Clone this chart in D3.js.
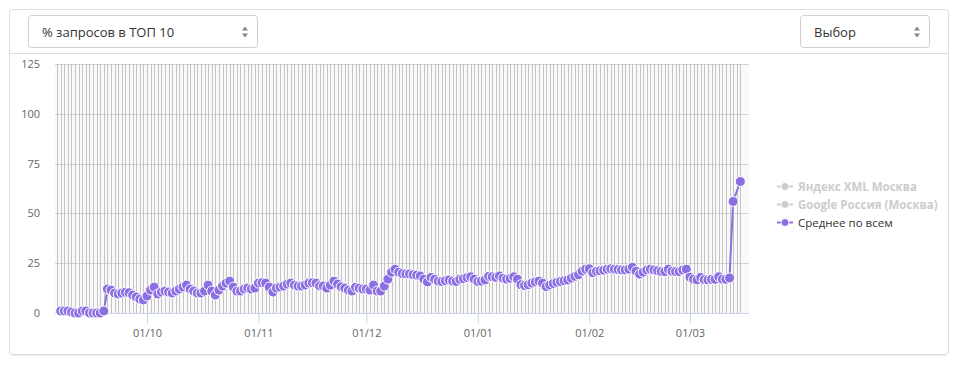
<!DOCTYPE html>
<html>
<head>
<meta charset="utf-8">
<script src="https://cdn.jsdelivr.net/npm/d3@7"></script>
<style>
  body { margin: 0; background: #fff; font-family: "Open Sans", sans-serif; }
  svg text { font-family: "Open Sans", sans-serif; }
</style>
</head>
<body>
<svg id="chart" width="960" height="367"></svg>
<script>
// daily values, one array per month, each starting at its first date
const sepStart = new Date(2018, 8, 7);
const sepValues = [1, 1, 1, 0.5, 0, 0, 1, 1, 0, 0, 0, 0, 1,
  12, 11.5, 10, 9.5, 10, 10.4, 10.2, 9, 8, 7, 6.5];
const octValues = [8.5, 11.5, 13, 9.5, 10.5, 11, 10.5, 10, 11, 12, 13, 14, 12, 11, 10, 10,
  11, 14, 11, 9, 11.5, 13.5, 15, 16, 13, 11, 11, 12, 12.5, 12, 12.5];
const novValues = [15, 15.2, 15, 13, 10.5, 12.5, 13, 13.5, 14.5, 15, 14, 13.5, 13.5, 14, 15,
  15.2, 15, 13.6, 13.5, 12.5, 14, 16, 14.5, 13.2, 12.5, 11.5, 11, 12.9, 12.5, 12];
const decValues = [12, 11.5, 14, 11, 11, 13.5, 17, 20.5, 22, 20.5, 19.8, 19.6, 19.6, 19.2, 19,
  18.6, 17, 15.6, 17.9, 17, 16, 15.8, 16.2, 16.6, 16, 15.8, 16.9, 17.2, 17.8, 18.2, 17];
const janValues = [15.8, 16, 16.6, 18.4, 18.2, 17.9, 18.6, 17.5, 17, 17.4, 18.2, 17, 14.2, 13.8,
  14.2, 15, 15.6, 16, 15, 13.2, 14, 14.8, 15.4, 15.8, 16.2, 16.6, 17.5, 18.4, 19.2, 21, 22];
const febValues = [22.2, 20.2, 21, 21.2, 21.5, 22, 22.2, 22, 21.8, 21.6, 21.6, 22, 23, 21,
  19.5, 20.5, 21.6, 22, 21.6, 21.2, 20.8, 20.8, 22, 21, 20.8, 20.8, 21.6, 22];
const marValues = [18, 17, 16.6, 17.9, 16.8, 16.6, 16.9, 16.9, 18.2, 17, 16.9, 17.6, 56, null, 66];

const yTicks = [0, 25, 50, 75, 100, 125];
const seriesNames = ["Яндекс XML Москва", "Google Россия (Москва)", "Среднее по всем"];
const seriesVisible = [false, false, true];
const metricLabel = "% запросов в ТОП 10";
const pickLabel = "Выбор";

const purple = "#8b6fe2";

const monthArrays = [
  [sepStart, sepValues],
  [new Date(2018, 9, 1), octValues],
  [new Date(2018, 10, 1), novValues],
  [new Date(2018, 11, 1), decValues],
  [new Date(2019, 0, 1), janValues],
  [new Date(2019, 1, 1), febValues],
  [new Date(2019, 2, 1), marValues]
];
const data = [];
monthArrays.forEach(([start, vals]) => {
  vals.forEach((v, i) => data.push({ date: d3.timeDay.offset(start, i), value: v }));
});
const points = data.filter(d => d.value !== null);

const svg = d3.select("#chart");

// panel
svg.append("rect")
    .attr("x", 9.5).attr("y", 9.5)
    .attr("width", 939).attr("height", 345)
    .attr("rx", 3)
    .attr("fill", "#fff")
    .attr("stroke", "#dcdcdc");
svg.append("line")
    .attr("x1", 11).attr("x2", 947)
    .attr("y1", 355.5).attr("y2", 355.5)
    .attr("stroke", "#ececec");
svg.append("line")
    .attr("x1", 10).attr("x2", 948)
    .attr("y1", 53.5).attr("y2", 53.5)
    .attr("stroke", "#dcdcdc");

// select boxes
function selectBox(x, w, label) {
  let g = svg.append("g").attr("transform", "translate(" + x + ",15.5)");
  g.append("rect")
      .attr("x", 0.5).attr("width", w).attr("height", 32)
      .attr("rx", 3)
      .attr("fill", "#fff")
      .attr("stroke", "#cfcfcf");
  g.append("text")
      .attr("x", 14).attr("y", 21)
      .attr("font-size", 13)
      .attr("fill", "#333")
      .text(label);
  let ax = w - 12;
  g.append("path")
      .attr("d", "M" + (ax - 3) + ",15 L" + ax + ",11 L" + (ax + 3) + ",15 Z")
      .attr("fill", "#888");
  g.append("path")
      .attr("d", "M" + (ax - 3) + ",18 L" + ax + ",22 L" + (ax + 3) + ",18 Z")
      .attr("fill", "#888");
}
selectBox(28, 229, metricLabel);
selectBox(800, 129, pickLabel);

// scales
const plot = { left: 55, right: 749, top: 64, bottom: 313 };
const x = d3.scaleTime()
    .domain([new Date(2018, 8, 5, 10), new Date(2019, 2, 17, 10)])
    .range([plot.left, plot.right]);
const y = d3.scaleLinear()
    .domain([0, 125])
    .range([plot.bottom, plot.top]);

svg.append("rect")
    .attr("x", plot.left).attr("y", plot.top)
    .attr("width", plot.right - plot.left)
    .attr("height", plot.bottom - plot.top)
    .attr("fill", "#f9f9f9");

// horizontal grid
svg.append("g")
  .selectAll("line")
  .data(yTicks.filter(t => t > 0))
  .enter()
  .append("line")
    .attr("x1", plot.left).attr("x2", plot.right)
    .attr("y1", d => Math.round(y(d)) + 0.5)
    .attr("y2", d => Math.round(y(d)) + 0.5)
    .attr("stroke", "#d2d2d2");

// vertical daily grid
const days = d3.timeDay.range(d3.timeDay.offset(sepStart, -1), d3.timeDay.offset(data[data.length - 1].date, 1));
svg.append("g")
  .selectAll("line")
  .data(days)
  .enter()
  .append("line")
    .attr("x1", d => Math.round(x(d)) + 0.5)
    .attr("x2", d => Math.round(x(d)) + 0.5)
    .attr("y1", plot.top)
    .attr("y2", plot.bottom)
    .attr("stroke", "#c4c4c4");

// y axis
let yAxis = svg.append("g")
    .attr("transform", "translate(" + plot.left + ",0)")
    .call(d3.axisLeft(y).tickValues(yTicks).tickSize(0).tickPadding(15));
yAxis.select(".domain").remove();
yAxis.selectAll("text")
    .attr("font-size", 11)
    .attr("fill", "#666")
    .style("font-family", "'Open Sans', sans-serif");

// x axis
const monthTicks = d3.timeMonth.range(new Date(2018, 9, 1), new Date(2019, 2, 2));
let xAxis = svg.append("g")
    .attr("transform", "translate(0," + (plot.bottom + 0.5) + ")")
    .call(d3.axisBottom(x)
        .tickValues(monthTicks)
        .tickSize(10)
        .tickPadding(6)
        .tickFormat(d3.timeFormat("%d/%m")));
xAxis.select(".domain")
    .attr("d", "M" + plot.left + ",0H" + plot.right)
    .attr("stroke", "#ccd6eb");
xAxis.selectAll(".tick line").attr("stroke", "#ccd6eb");
xAxis.selectAll("text")
    .attr("font-size", 11)
    .attr("fill", "#666")
    .style("font-family", "'Open Sans', sans-serif");

// series
let line = d3.line()
    .x(d => x(d.date))
    .y(d => y(d.value));

svg.append("path")
    .datum(points)
    .attr("d", line)
    .attr("fill", "none")
    .attr("stroke", purple)
    .attr("stroke-width", 2);

svg.append("g")
  .selectAll("circle")
  .data(points)
  .enter()
  .append("circle")
    .attr("cx", d => x(d.date))
    .attr("cy", d => y(d.value))
    .attr("r", 5)
    .attr("fill", purple)
    .attr("stroke", "#fff")
    .attr("stroke-width", 1);

// legend
let legend = svg.append("g")
  .selectAll("g")
  .data(seriesNames)
  .enter()
  .append("g")
    .attr("transform", (d, i) => "translate(777," + (186.5 + i * 18) + ")");
legend.append("line")
    .attr("x1", 0).attr("x2", 16)
    .attr("stroke", (d, i) => seriesVisible[i] ? purple : "#ccc")
    .attr("stroke-width", 2);
legend.append("circle")
    .attr("cx", 8).attr("r", 4)
    .attr("fill", (d, i) => seriesVisible[i] ? purple : "#ccc")
    .attr("stroke", "#fff");
legend.append("text")
    .attr("x", 21).attr("y", 4)
    .attr("font-size", 11.5)
    .attr("font-weight", (d, i) => seriesVisible[i] ? "normal" : "bold")
    .attr("fill", (d, i) => seriesVisible[i] ? "#333" : "#ccc")
    .text(d => d);
</script>
</body>
</html>
